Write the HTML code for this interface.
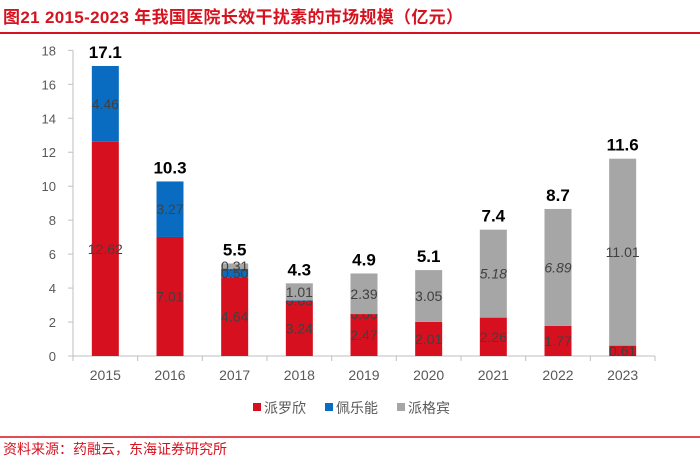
<!DOCTYPE html>
<html><head><meta charset="utf-8"><style>
body{margin:0;background:#fff;width:700px;height:463px;overflow:hidden;font-family:"Liberation Sans","Noto Sans CJK SC",sans-serif}
</style></head><body>
<svg width="700" height="463" xmlns="http://www.w3.org/2000/svg" font-family="Liberation Sans, Noto Sans CJK SC, sans-serif">
<text x="3" y="23" font-size="17" font-weight="bold" fill="#d7121f" textLength="460">图21  2015-2023 年我国医院长效干扰素的市场规模（亿元）</text>
<line x1="0" y1="33" x2="700" y2="33" stroke="#d7121f" stroke-width="2"/>
<g id="chart"></g>
<g font-size="14" fill="#595959">
<rect x="253" y="403" width="8" height="8" fill="#d7101f"/>
<text x="264" y="413">派罗欣</text>
<rect x="325" y="403" width="8" height="8" fill="#0a6cc0"/>
<text x="336" y="413">佩乐能</text>
<rect x="397" y="403" width="8" height="8" fill="#a6a6a6"/>
<text x="408" y="413">派格宾</text>
</g>
<line x1="0" y1="437" x2="700" y2="437" stroke="#d7121f" stroke-width="1.5"/>
<text x="3" y="454" font-size="14" fill="#d7121f">资料来源：药融云，东海证券研究所</text>
</svg>
<script>
const years=["2015","2016","2017","2018","2019","2020","2021","2022","2023"];
const pailuoxin=[12.62,7.01,4.64,3.24,2.47,2.01,2.26,1.77,0.61];
const peileneng=[4.46,3.27,0.50,0.03,0.00,0,0,0,0];
const paigebin=[0,0,0.31,1.01,2.39,3.05,5.18,6.89,11.01];
const totals=["17.1","10.3","5.5","4.3","4.9","5.1","7.4","8.7","11.6"];
const yTicks=[0,2,4,6,8,10,12,14,16,18];
const showPei=[true,true,true,true,true,false,false,false,false];
const showGray=[false,false,true,true,true,true,true,true,true];
const italicGray=[false,false,false,false,false,false,true,true,false];

const NS="http://www.w3.org/2000/svg";
const g=document.getElementById('chart');
const x0=73,x1=655,yBase=356,k=16.98;
const bw=(x1-x0)/years.length;
const Y=v=>yBase-v*k;
const XC=i=>x0+bw*(i+0.5);
function mk(tag,attrs,txt){const e=document.createElementNS(NS,tag);for(const a in attrs)e.setAttribute(a,attrs[a]);if(txt!==undefined)e.textContent=txt;g.appendChild(e);return e;}
let e=mk('line',{x1:x0,y1:Y(18),x2:x0,y2:yBase,stroke:'#bfbfbf'});


e=mk('line',{x1:x0,y1:yBase,x2:x1,y2:yBase,stroke:'#bfbfbf'});


yTicks.forEach(t=>{
 let l=mk('line',{x1:x0-5,y1:Y(t),x2:x0,y2:Y(t),stroke:'#bfbfbf'});
 
 
 let tx=mk('text',{x:56,y:Y(t)+5,'font-size':13,fill:'#595959','text-anchor':'end'},t);
 
 
});
for(let i=0;i<=years.length;i++){
 let l=mk('line',{x1:x0+bw*i,y1:yBase,x2:x0+bw*i,y2:yBase+5,stroke:'#bfbfbf'});
 
 
}
years.forEach((yr,i)=>{
 const cx=XC(i),w=27;
 let t=mk('text',{x:cx,y:yBase+24,'font-size':14,fill:'#595959','text-anchor':'middle'},yr);
 
 
 const segs=[[pailuoxin[i],'#d7101f',true,'bar-pailuoxin',false],[peileneng[i],'#0a6cc0',showPei[i],'bar-peileneng',false],[paigebin[i],'#a6a6a6',showGray[i],'bar-paigebin',italicGray[i]]];
 let base=0;
 segs.forEach(([v,c,show,nm,it])=>{
  if(v>0){let r=mk('rect',{x:cx-w/2,y:Y(base+v),width:w,height:v*k,fill:c});
   
   }
  if(show){let lt=mk('text',{x:cx,y:Y(base+v/2)+5,'font-size':14,fill:'#404040','text-anchor':'middle','font-style':it?'italic':'normal'},v.toFixed(2));
   
   }
  base+=v;
 });
 let tt=mk('text',{x:cx,y:Y(base)-8,'font-size':17,'font-weight':'bold',fill:'#000','text-anchor':'middle'},totals[i]);
 
 
});
</script>
</body></html>
